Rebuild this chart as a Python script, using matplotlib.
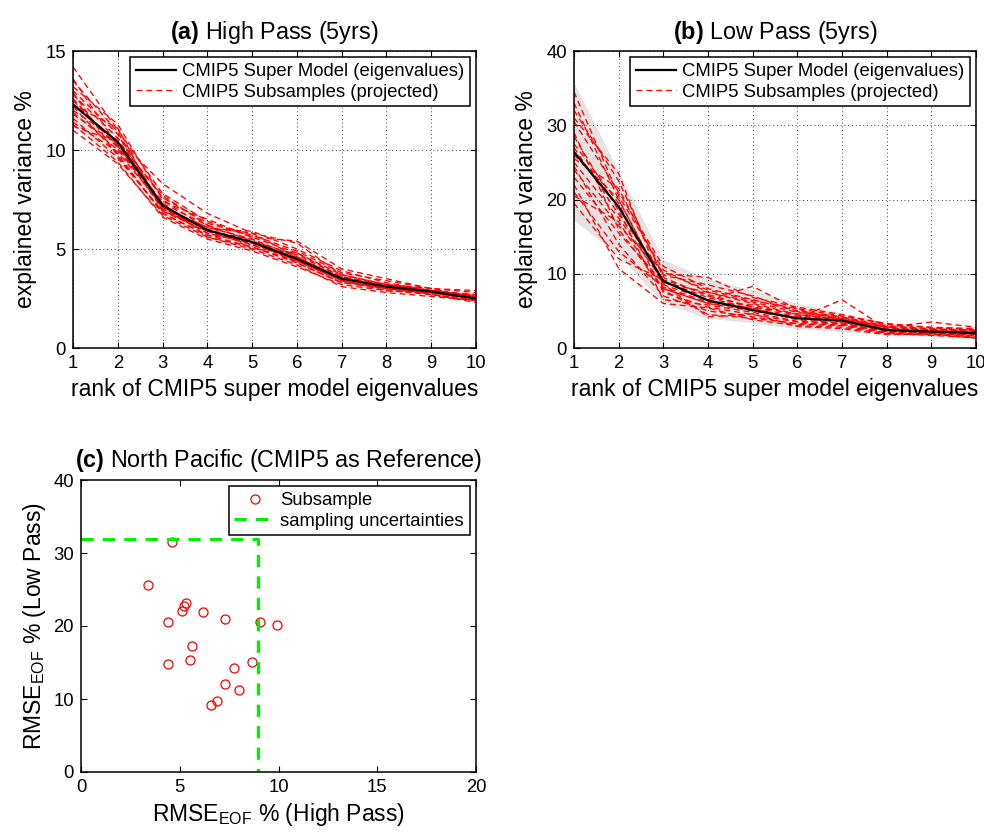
import matplotlib
matplotlib.use("Agg")
import matplotlib.pyplot as plt
import numpy as np

plt.rcParams['font.family'] = ['Liberation Sans', 'DejaVu Sans']
plt.rcParams['mathtext.fontset'] = 'custom'
plt.rcParams['mathtext.rm'] = 'Liberation Sans'
plt.rcParams['mathtext.it'] = 'Liberation Sans:italic'
plt.rcParams['mathtext.bf'] = 'Liberation Sans:bold'

rank = [1, 2, 3, 4, 5, 6, 7, 8, 9, 10]

# (a) high pass
hp_super = [12.3, 10.4, 7.2, 5.95, 5.35, 4.5, 3.5, 3.1, 2.85, 2.5]
hp_band_lo = [11.2, 9.5, 6.6, 5.5, 4.9, 4.1, 3.2, 2.9, 2.7, 2.35]
hp_band_hi = [13.3, 11.2, 7.9, 6.4, 5.8, 4.9, 3.8, 3.3, 3.0, 2.65]
hp_sub = [
    [14.2, 11.0, 7.8, 6.4, 5.6, 4.8, 3.6, 3.2, 2.9, 2.6],
    [13.5, 10.9, 7.1, 6.1, 5.5, 4.6, 3.5, 3.1, 2.8, 2.5],
    [13.2, 11.3, 7.5, 6.0, 5.9, 5.0, 3.9, 3.3, 2.9, 2.7],
    [12.8, 10.6, 8.3, 6.8, 5.8, 5.3, 3.7, 3.2, 3.0, 2.5],
    [12.5, 10.2, 7.0, 5.8, 5.3, 4.4, 3.4, 3.0, 2.8, 2.4],
    [12.2, 9.8, 6.8, 5.7, 5.1, 4.3, 3.3, 3.0, 2.7, 2.4],
    [11.9, 10.0, 7.3, 6.2, 5.4, 4.7, 3.6, 3.1, 2.8, 2.6],
    [11.6, 9.6, 6.9, 5.9, 5.2, 4.5, 3.5, 3.2, 2.9, 2.5],
    [11.3, 9.4, 6.6, 5.5, 4.9, 4.1, 3.2, 2.9, 2.7, 2.3],
    [11.0, 9.3, 6.7, 5.6, 5.0, 4.2, 3.1, 2.8, 2.6, 2.4],
    [12.0, 10.5, 7.6, 6.3, 5.7, 4.9, 3.8, 3.4, 3.0, 2.8],
    [11.4, 9.9, 7.2, 5.9, 5.5, 4.4, 3.4, 3.0, 2.8, 2.5],
    [13.0, 10.8, 7.0, 6.0, 5.2, 4.6, 3.5, 3.1, 2.9, 2.6],
    [12.6, 10.1, 7.4, 6.5, 5.6, 5.4, 4.0, 3.5, 3.0, 2.9],
    [11.8, 10.3, 7.1, 5.8, 5.3, 4.5, 3.6, 3.0, 2.8, 2.5],
    [12.9, 9.7, 6.8, 5.7, 5.4, 4.3, 3.3, 3.1, 2.7, 2.4],
    [11.2, 10.4, 7.7, 6.2, 5.0, 4.8, 3.7, 3.2, 2.9, 2.6],
    [12.3, 11.1, 6.9, 6.1, 5.8, 4.6, 3.4, 2.9, 2.8, 2.5],
    [13.6, 10.2, 7.3, 5.6, 5.1, 4.4, 3.5, 3.1, 2.8, 2.7],
]

# (b) low pass
lp_super = [26.4, 19.0, 9.0, 6.4, 5.1, 4.0, 3.7, 2.4, 2.2, 2.0]
lp_band_lo = [17.2, 12.5, 6.0, 4.0, 3.4, 2.6, 2.2, 1.8, 1.6, 1.3]
lp_band_hi = [35.7, 23.8, 11.9, 9.3, 7.8, 6.0, 4.7, 3.4, 2.9, 2.9]
lp_sub = [
    [34.5, 20.5, 10.5, 7.5, 6.0, 4.5, 3.8, 2.8, 2.5, 2.3],
    [32.0, 22.5, 9.5, 7.0, 5.5, 4.2, 3.6, 2.6, 2.4, 2.1],
    [30.5, 21.0, 11.0, 8.0, 6.5, 5.0, 4.2, 3.0, 2.6, 2.4],
    [29.0, 16.0, 8.0, 6.0, 5.0, 4.0, 3.5, 2.4, 2.2, 2.0],
    [27.5, 19.5, 7.5, 5.5, 4.5, 3.5, 3.2, 2.2, 2.0, 1.8],
    [27.0, 18.0, 10.0, 9.5, 6.8, 5.5, 4.5, 3.2, 2.8, 2.6],
    [26.0, 20.0, 8.5, 6.5, 8.3, 5.2, 3.8, 2.5, 2.3, 2.1],
    [25.0, 17.5, 9.0, 6.8, 5.2, 4.0, 6.5, 2.6, 2.4, 2.2],
    [24.5, 14.0, 7.0, 5.0, 4.2, 3.2, 3.0, 2.0, 1.9, 1.7],
    [23.0, 15.5, 8.8, 7.5, 6.2, 4.8, 4.0, 2.8, 3.5, 2.8],
    [22.0, 10.7, 6.0, 5.4, 3.8, 3.0, 2.8, 1.9, 1.8, 1.5],
    [21.0, 13.0, 8.2, 6.2, 5.8, 4.4, 3.7, 2.5, 2.2, 2.0],
    [20.5, 17.0, 7.8, 4.5, 4.0, 3.3, 3.1, 2.1, 2.0, 1.6],
    [25.5, 21.5, 9.8, 8.5, 7.0, 4.9, 4.1, 2.9, 2.5, 2.4],
    [28.5, 18.5, 6.5, 5.8, 4.8, 3.6, 3.3, 2.3, 2.1, 1.9],
    [19.5, 12.0, 9.2, 7.2, 5.5, 4.6, 3.9, 2.7, 2.3, 2.2],
    [31.0, 23.5, 8.0, 6.0, 5.4, 3.8, 3.4, 2.0, 1.7, 1.4],
    [24.0, 16.5, 10.2, 7.8, 6.4, 5.3, 4.3, 3.3, 2.7, 2.5],
    [33.0, 20.0, 8.6, 4.2, 4.6, 2.9, 2.6, 1.8, 1.9, 1.3],
]

# (c) rmse of subsamples
rmse_high = [4.6, 3.4, 5.3, 5.2, 5.1, 6.2, 7.3, 4.4, 9.05, 9.9,
             5.6, 5.5, 4.4, 8.65, 7.75, 7.3, 8.0, 6.9, 6.6]
rmse_low = [31.5, 25.6, 23.1, 22.8, 22.1, 21.9, 20.9, 20.5, 20.6, 20.2,
            17.3, 15.4, 14.8, 15.05, 14.3, 12.0, 11.2, 9.7, 9.2]
unc_high = 8.95
unc_low = 31.9

W, H = 984, 836
LABEL_FS = 16.5
TITLE_FS = 16.8
TICK_FS = 13.3
LEG_FS = 13.3

fig = plt.figure(figsize=(W / 100, H / 100), dpi=100)


def px_axes(l, r, t, b):
    return fig.add_axes([l / W, 1 - b / H, (r - l) / W, (b - t) / H])


def style(ax):
    ax.tick_params(direction='in', top=True, right=True, length=4,
                   width=0.8, labelsize=TICK_FS, pad=5)
    for s in ax.spines.values():
        s.set_linewidth(1.1)


def add_legend(ax, handles=None, labels=None):
    if handles is None:
        handles, labels = ax.get_legend_handles_labels()
    leg = ax.legend(handles, labels, loc='upper right', fontsize=LEG_FS,
                    fancybox=False, edgecolor='black', framealpha=1,
                    handlelength=2.2, borderpad=0.3, labelspacing=0.2,
                    handletextpad=0.3, borderaxespad=0.35)
    leg.get_frame().set_linewidth(1.1)


def eig_panel(ax, sup, lo, hi, subs, ymax, yticks, title):
    ax.fill_between(rank, lo, hi, color='#e3e3e3', lw=0)
    for i, s in enumerate(subs):
        ax.plot(rank, s, color='red', lw=0.95, ls=(0, (4.5, 3)),
                label='CMIP5 Subsamples (projected)' if i == 0 else None)
    ax.plot(rank, sup, color='black', lw=1.6,
            label='CMIP5 Super Model (eigenvalues)')
    ax.set_xlim(1, 10)
    ax.set_ylim(0, ymax)
    ax.set_xticks(rank)
    ax.set_yticks(yticks)
    ax.grid(True, color='black', lw=0.6, ls=(0, (1, 3.5)))
    style(ax)
    ax.set_xlabel('rank of CMIP5 super model eigenvalues', fontsize=LABEL_FS,
                  labelpad=4)
    ax.set_ylabel('explained variance %', fontsize=LABEL_FS, labelpad=6)
    ax.set_title(title, fontsize=TITLE_FS, pad=9)
    h, l = ax.get_legend_handles_labels()
    add_legend(ax, h[::-1], l[::-1])


ax1 = px_axes(73, 476, 51, 348)
eig_panel(ax1, hp_super, hp_band_lo, hp_band_hi, hp_sub, 15, [0, 5, 10, 15],
          r'$\bf{(a)}$ High Pass (5yrs)')

ax2 = px_axes(574, 976, 51, 348)
eig_panel(ax2, lp_super, lp_band_lo, lp_band_hi, lp_sub, 40,
          [0, 10, 20, 30, 40], r'$\bf{(b)}$ Low Pass (5yrs)')

ax3 = px_axes(81, 476, 480, 772)
ax3.plot(rmse_high, rmse_low, ls='none', marker='o', ms=6.5, mfc='none',
         mec='red', mew=0.9, label='Subsample')
ax3.plot([0, unc_high, unc_high], [unc_low, unc_low, 0], color='#00ee00',
         lw=2.2, ls=(0, (4, 3)), label='sampling uncertainties')
ax3.set_xlim(0, 20)
ax3.set_ylim(0, 40)
ax3.set_xticks([0, 5, 10, 15, 20])
ax3.set_yticks([0, 10, 20, 30, 40])
style(ax3)
ax3.set_xlabel(r'RMSE$_{\mathrm{EOF}}$ % (High Pass)', fontsize=LABEL_FS,
               labelpad=4)
ax3.set_ylabel(r'RMSE$_{\mathrm{EOF}}$ % (Low Pass)', fontsize=LABEL_FS,
               labelpad=4)
ax3.set_title(r'$\bf{(c)}$ North Pacific (CMIP5 as Reference)',
              fontsize=TITLE_FS, pad=9)
add_legend(ax3)

fig.savefig('out.png', dpi=100)
